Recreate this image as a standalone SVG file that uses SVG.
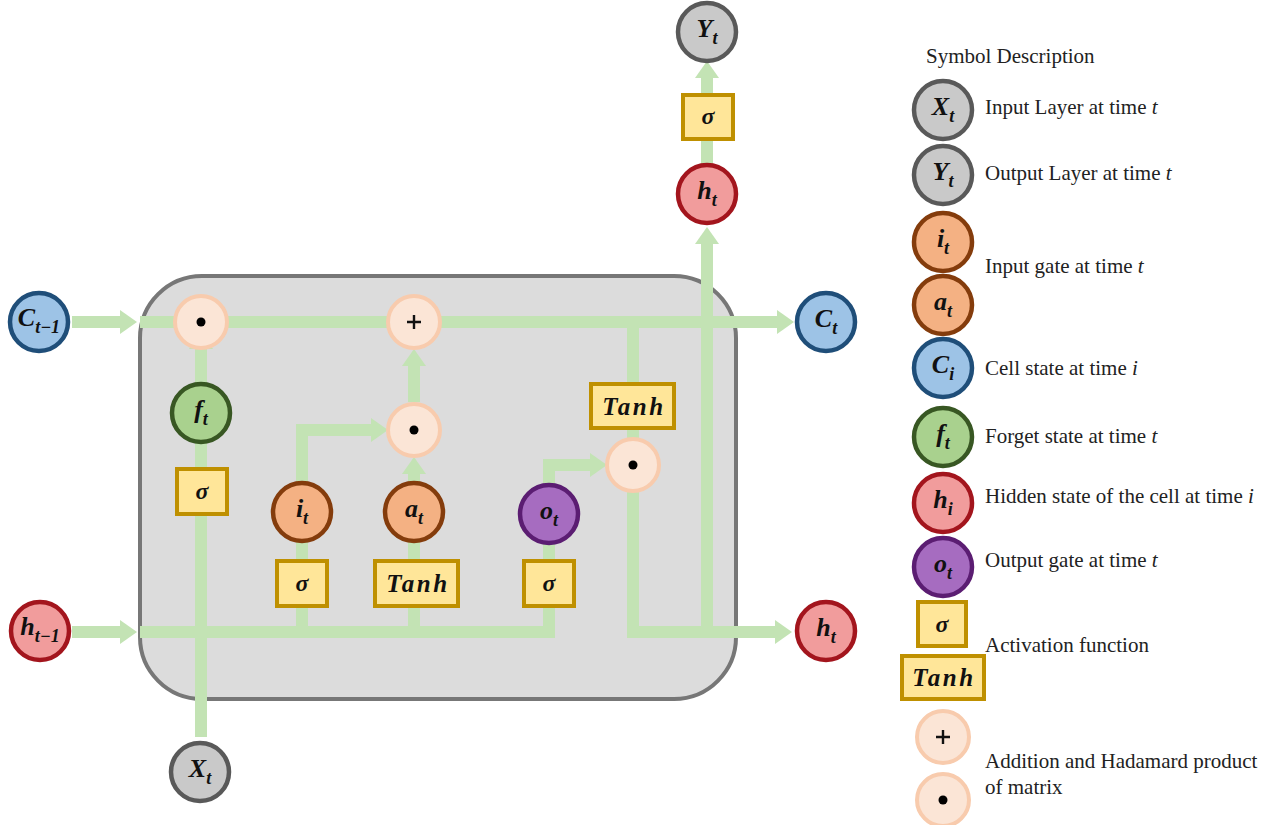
<svg xmlns="http://www.w3.org/2000/svg" width="1286" height="825" viewBox="0 0 1286 825">
<style>
  .var { stroke-width: 4.5; }
  .gray { fill: #c9c9c9; stroke: #595959; }
  .blue { fill: #9dc3e6; stroke: #1f4e79; }
  .green { fill: #a9d18e; stroke: #385723; }
  .red { fill: #f19c9c; stroke: #a3151d; }
  .orange { fill: #f4b183; stroke: #843c0c; }
  .purple { fill: #a66cc0; stroke: #5b1d72; }
  .op { fill: #fbe5d6; stroke: #f8cbad; stroke-width: 4; }
  .box { fill: #ffe699; stroke: #bf9000; stroke-width: 4; }
  .lbl { font-family: "Liberation Serif", "DejaVu Serif", serif; font-weight: bold; font-style: italic; font-size: 26px; fill: #111; text-anchor: middle; }
  .sub { font-size: 18px; }
  .boxt { font-family: "Liberation Serif", "DejaVu Serif", serif; font-weight: bold; font-style: italic; font-size: 25px; fill: #111; text-anchor: middle; letter-spacing: 2.5px; }
  .sig { font-family: "Liberation Serif", "DejaVu Serif", serif; font-weight: bold; font-style: italic; font-size: 24px; fill: #111; text-anchor: middle; }
  .leg { font-family: "Liberation Serif", "DejaVu Serif", serif; font-size: 21px; fill: #222; }
  .wire { fill: none; stroke: #c3e3b4; stroke-width: 12; stroke-linecap: butt; stroke-linejoin: miter; }
  .plus { stroke: #111; stroke-width: 2.4; }
</style>
<defs>
  <marker id="ah" markerUnits="userSpaceOnUse" markerWidth="20" markerHeight="26" refX="0" refY="12" orient="auto" overflow="visible">
    <path d="M0,0 L17,12 L0,24 Z" fill="#c3e3b4"/>
  </marker>
</defs>

<rect x="0" y="0" width="1286" height="825" fill="#ffffff"/>

<!-- cell box -->
<g id="cell">
  <rect x="140" y="276" width="596" height="423" rx="62" ry="62" fill="#dcdcdc" stroke="#777777" stroke-width="4"/>
</g>

<!-- connectors -->
<g id="connectors">
  <path class="wire" d="M72,322 H120" marker-end="url(#ah)"/>
  <path class="wire" d="M140,322 H777" marker-end="url(#ah)"/>
  <path class="wire" d="M72,632 H120" marker-end="url(#ah)"/>
  <path class="wire" d="M140,632 H555"/>
  <path class="wire" d="M549,632 V608"/>
  <path class="wire" d="M201,737 V514"/>
  <path class="wire" d="M201,470 V440"/>
  <path class="wire" d="M201,386 V349" marker-end="url(#ah)" />
  <path class="wire" d="M302,638 V606"/>
  <path class="wire" d="M302,562 V540"/>
  <path class="wire" d="M302,484 V430 H371" marker-end="url(#ah)"/>
  <path class="wire" d="M414,638 V606"/>
  <path class="wire" d="M414,562 V540"/>
  <path class="wire" d="M414,484 V474" marker-end="url(#ah)"/>
  <path class="wire" d="M414,402 V366" marker-end="url(#ah)"/>
  <path class="wire" d="M549,562 V542"/>
  <path class="wire" d="M549,486 V465 H590" marker-end="url(#ah)"/>
  <path class="wire" d="M633,318 V632 H775" marker-end="url(#ah)"/>
  <path class="wire" d="M707,638 V244" marker-end="url(#ah)"/>
  <path class="wire" d="M707,165 V138"/>
  <path class="wire" d="M707,96 V78" marker-end="url(#ah)"/>
</g>

<!-- nodes -->
<g id="C_prev"><circle class="var blue" cx="39" cy="322" r="29"/><text class="lbl" x="39" y="326">C<tspan class="sub" dy="7">t−1</tspan></text></g>
<g id="h_prev"><circle class="var red" cx="40" cy="631" r="29"/><text class="lbl" x="40" y="635">h<tspan class="sub" dy="7">t−1</tspan></text></g>
<g id="X_t"><circle class="var gray" cx="200" cy="772" r="29"/><text class="lbl" x="200" y="777">X<tspan class="sub" dy="7">t</tspan></text></g>
<g id="f_t"><circle class="var green" cx="201" cy="413" r="29"/><text class="lbl" x="201" y="418">f<tspan class="sub" dy="7">t</tspan></text></g>
<g id="sigma_f"><rect class="box" x="177" y="469" width="50" height="45"/><text class="sig" x="202" y="499">σ</text></g>
<g id="mul_f"><circle class="op" cx="201" cy="322" r="26"/><circle cx="201" cy="322" r="4.5" fill="#000"/></g>
<g id="add"><circle class="op" cx="414" cy="322" r="26"/><path class="plus" d="M407,322 H421 M414,315 V329"/></g>
<g id="mul_i"><circle class="op" cx="414" cy="430" r="26"/><circle cx="414" cy="430" r="4.5" fill="#000"/></g>
<g id="i_t"><circle class="var orange" cx="302" cy="512" r="29"/><text class="lbl" x="302" y="517">i<tspan class="sub" dy="7">t</tspan></text></g>
<g id="a_t"><circle class="var orange" cx="414" cy="512" r="29"/><text class="lbl" x="414" y="517">a<tspan class="sub" dy="7">t</tspan></text></g>
<g id="o_t"><circle class="var purple" cx="549" cy="514" r="29"/><text class="lbl" x="549" y="519">o<tspan class="sub" dy="7">t</tspan></text></g>
<g id="sigma_i"><rect class="box" x="277" y="561" width="50" height="45"/><text class="sig" x="302" y="591">σ</text></g>
<g id="tanh_a"><rect class="box" x="375" y="561" width="83" height="45"/><text class="boxt" x="418" y="592">Tanh</text></g>
<g id="sigma_o"><rect class="box" x="524" y="561" width="50" height="45"/><text class="sig" x="549" y="591">σ</text></g>
<g id="tanh_c"><rect class="box" x="591" y="384" width="83" height="44"/><text class="boxt" x="634" y="415">Tanh</text></g>
<g id="mul_o"><circle class="op" cx="633" cy="465" r="26"/><circle cx="633" cy="465" r="4.5" fill="#000"/></g>
<g id="C_t"><circle class="var blue" cx="826" cy="322" r="29"/><text class="lbl" x="826" y="327">C<tspan class="sub" dy="7">t</tspan></text></g>
<g id="h_t_right"><circle class="var red" cx="826" cy="631" r="29"/><text class="lbl" x="826" y="636">h<tspan class="sub" dy="7">t</tspan></text></g>
<g id="h_t_top"><circle class="var red" cx="707" cy="194" r="29"/><text class="lbl" x="707" y="199">h<tspan class="sub" dy="7">t</tspan></text></g>
<g id="sigma_y"><rect class="box" x="683" y="95" width="50" height="44"/><text class="sig" x="708" y="124">σ</text></g>
<g id="Y_t"><circle class="var gray" cx="707" cy="32" r="29"/><text class="lbl" x="707" y="37">Y<tspan class="sub" dy="7">t</tspan></text></g>

<!-- legend -->
<g id="legend">
  <text class="leg" x="926" y="63">Symbol Description</text>
  <g id="leg_X"><circle class="var gray" cx="943" cy="110" r="29"/><text class="lbl" x="943" y="115">X<tspan class="sub" dy="7">t</tspan></text></g>
  <text class="leg" x="985" y="114">Input Layer at time <tspan font-style="italic">t</tspan></text>
  <g id="leg_Y"><circle class="var gray" cx="943" cy="175" r="29"/><text class="lbl" x="943" y="180">Y<tspan class="sub" dy="7">t</tspan></text></g>
  <text class="leg" x="985" y="180">Output Layer at time <tspan font-style="italic">t</tspan></text>
  <g id="leg_i"><circle class="var orange" cx="943" cy="242" r="29"/><text class="lbl" x="943" y="247">i<tspan class="sub" dy="7">t</tspan></text></g>
  <g id="leg_a"><circle class="var orange" cx="943" cy="305" r="29"/><text class="lbl" x="943" y="310">a<tspan class="sub" dy="7">t</tspan></text></g>
  <text class="leg" x="985" y="273">Input gate at time <tspan font-style="italic">t</tspan></text>
  <g id="leg_C"><circle class="var blue" cx="943" cy="368" r="29"/><text class="lbl" x="943" y="373">C<tspan class="sub" dy="7">i</tspan></text></g>
  <text class="leg" x="985" y="375">Cell state at time <tspan font-style="italic">i</tspan></text>
  <g id="leg_f"><circle class="var green" cx="943" cy="437" r="29"/><text class="lbl" x="943" y="442">f<tspan class="sub" dy="7">t</tspan></text></g>
  <text class="leg" x="985" y="443">Forget state at time <tspan font-style="italic">t</tspan></text>
  <g id="leg_h"><circle class="var red" cx="943" cy="503" r="29"/><text class="lbl" x="943" y="508">h<tspan class="sub" dy="7">i</tspan></text></g>
  <text class="leg" x="985" y="503">Hidden state of the cell at time <tspan font-style="italic">i</tspan></text>
  <g id="leg_o"><circle class="var purple" cx="943" cy="567" r="29"/><text class="lbl" x="943" y="572">o<tspan class="sub" dy="7">t</tspan></text></g>
  <text class="leg" x="985" y="567">Output gate at time <tspan font-style="italic">t</tspan></text>
  <g id="leg_sigma"><rect class="box" x="918" y="602" width="48" height="44"/><text class="sig" x="942" y="632">σ</text></g>
  <g id="leg_tanh"><rect class="box" x="902" y="656" width="82" height="43"/><text class="boxt" x="944" y="686">Tanh</text></g>
  <text class="leg" x="985" y="652">Activation function</text>
  <g id="leg_add"><circle class="op" cx="943" cy="737" r="26"/><path class="plus" d="M936,737 H950 M943,730 V744"/></g>
  <g id="leg_mul"><circle class="op" cx="943" cy="800" r="26"/><circle cx="943" cy="800" r="4.5" fill="#000"/></g>
  <text class="leg" x="985" y="768">Addition and Hadamard product</text>
  <text class="leg" x="985" y="794">of matrix</text>
</g>
</svg>
